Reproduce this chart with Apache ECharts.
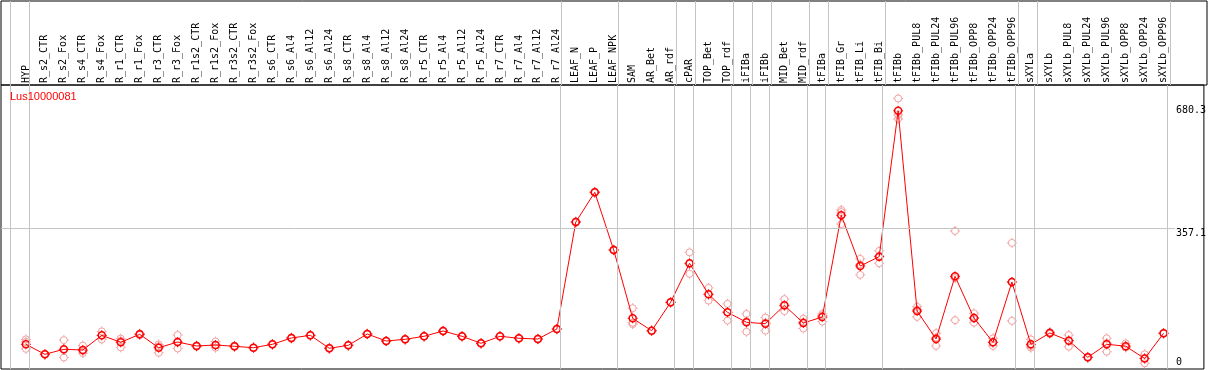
<!DOCTYPE html>
<html>
<head>
<meta charset="utf-8">
<script src="https://cdn.jsdelivr.net/npm/echarts@6/dist/echarts.min.js"></script>
<style>
  html, body { margin: 0; padding: 0; background: #fff; }
  #chart { width: 1209px; height: 370px; }
</style>
</head>
<body>
<div id="chart"></div>
<script>
const geneName = 'Lus10000081';
const categories = ['HYP','R_s2_CTR','R_s2_Fox','R_s4_CTR','R_s4_Fox','R_r1_CTR','R_r1_Fox','R_r3_CTR','R_r3_Fox','R_r1s2_CTR','R_r1s2_Fox','R_r3s2_CTR','R_r3s2_Fox','R_s6_CTR','R_s6_Al4','R_s6_Al12','R_s6_Al24','R_s8_CTR','R_s8_Al4','R_s8_Al12','R_s8_Al24','R_r5_CTR','R_r5_Al4','R_r5_Al12','R_r5_Al24','R_r7_CTR','R_r7_Al4','R_r7_Al12','R_r7_Al24','LEAF_N','LEAF_P','LEAF_NPK','SAM','AR_Bet','AR_rdf','cPAR','TOP_Bet','TOP_rdf','iFIBa','iFIBb','MID_Bet','MID_rdf','tFIBa','tFIB_Gr','tFIB_Li','tFIB_Bi','tFIBb','tFIBb_PUL8','tFIBb_PUL24','tFIBb_PUL96','tFIBb_OPP8','tFIBb_OPP24','tFIBb_OPP96','sXYLa','sXYLb','sXYLb_PUL8','sXYLb_PUL24','sXYLb_PUL96','sXYLb_OPP8','sXYLb_OPP24','sXYLb_OPP96'];
const meanValues = [36.4,8.8,22.6,20.7,61.2,41.9,64,27,42.7,31.7,34.5,30.9,27,36.4,53.8,61.2,25.4,33.6,64.8,45.5,50.2,58.5,73.1,58.5,39.2,58.5,53,51,78.6,373.7,455.6,296.5,108.1,73.9,152.2,259.8,174.3,124.7,97.1,93.2,144,95.1,111.7,392.2,252.3,278,680.3,128.2,51,223.9,108.9,41.9,208.2,36.4,67.6,46.4,0.5,36.4,31.3,-3,66.7];
const replicateValues = [
  [50,43,24],[8,9,10],[48,0,21],[33,12,18],[72,50,61],[52,28,46],[62,66,64],[36,13,31],[62,25,41],[30,33,32],
  [44,27,33],[29,32,31],[26,28,27],[35,37,37],[52,55,54],[60,62,61],[24,27,25],[33,35,33],[64,66,65],[45,46,45],
  [49,51,50],[58,59,58],[72,74,73],[58,59,58],[38,40,39],[58,59,58],[52,54,53],[50,52,51],[78,79,78],[372,375,374],
  [454,457,456],[295,298,297],[136,92,96],[73,75,74],[151,153,152],[290,231,258],[192,157,174],[148,102,125],[120,71,100],[110,74,96],
  [161,128,142],[107,80,98],[120,116,99],[407,401,368],[272,228,257],[294,260,280],[714.2,658,669],[140,112,132],[67,32,55],[349,103,219],
  [122,96,109],[53,32,41],[316,101,208],[50,27,32],[70,65,68],[62,30,47],[0,2,0],[53,16,40],[39,28,28],[9,-16,-2],
  [66,67,67]
];
const yTickLabels = [0, 357.1];
const yMaxLabel = [680.3];
const yGridValue = 357.1;
const groupEnds = [-1,0,28,31,34,35,37,38,39,41,42,45,52,53,60];

// layout
const W = 1209, gridLeft = 1, gridRight = 2;
const firstX = 26, stepX = 19.01;
const gw = W - gridLeft - gridRight;
const xMin = -(firstX - gridLeft) / stepX;
const xMax = xMin + gw / stepX;
const sepOffset = 0.184;
const yMin = -31.7, yMax = 751.5;

const FONT = 'DejaVu Sans Mono';
const RED = '#ff0000', PINK = '#f2a0a0', GRAY = '#c4c4c4';
const tickPath = 'path://M0,5L1.4,5M8.6,5L10,5M5,0L5,1.4M5,8.6L5,10';

const meanData = meanValues.map((v, i) => [i, v]);
const repData = [];
replicateValues.forEach((arr, i) => arr.forEach(v => repData.push([i, v])));
const sepLines = groupEnds.map(g => ({ xAxis: g + sepOffset }));

const chart = echarts.init(document.getElementById('chart'), null, { renderer: 'canvas' });
chart.setOption({
  animation: false,
  backgroundColor: '#fff',
  title: {
    text: geneName, left: 10, top: 91, padding: 0,
    textStyle: { color: RED, fontSize: 11, fontWeight: 'normal', fontFamily: 'Liberation Sans' }
  },
  grid: [
    { left: gridLeft, right: gridRight, top: 1, height: 84, show: true, borderColor: '#000', borderWidth: 1, backgroundColor: 'transparent' },
    { left: gridLeft, right: gridRight, top: 85, height: 284, show: true, borderColor: '#000', borderWidth: 1, backgroundColor: 'transparent' }
  ],
  xAxis: [
    { type: 'value', gridIndex: 0, min: xMin, max: xMax, show: false },
    { type: 'value', gridIndex: 1, min: xMin, max: xMax, position: 'top',
      axisLine: { show: false }, axisTick: { show: false }, splitLine: { show: false },
      axisLabel: { customValues: categories.map((c, i) => i), formatter: v => categories[Math.round(v)] || '',
        rotate: 90, margin: 2, fontSize: 10, fontFamily: FONT, color: '#000', hideOverlap: false } }
  ],
  yAxis: [
    { type: 'value', gridIndex: 0, min: 0, max: 1, show: false },
    { type: 'value', gridIndex: 1, min: yMin, max: yMax, position: 'right', offset: -28,
      axisLine: { show: false }, axisTick: { show: false }, splitLine: { show: false },
      axisLabel: { customValues: yTickLabels, margin: 0, align: 'left', verticalAlign: 'top', fontSize: 10, fontFamily: FONT, color: '#000', formatter: v => String(v) } },
    { type: 'value', gridIndex: 1, min: yMin, max: yMax, position: 'right', offset: -28,
      axisLine: { show: false }, axisTick: { show: false }, splitLine: { show: false },
      axisLabel: { customValues: yMaxLabel, margin: 0, align: 'left', verticalAlign: 'middle', fontSize: 10, fontFamily: FONT, color: '#000', formatter: v => String(v) } }
  ],
  series: [
    { type: 'line', xAxisIndex: 0, yAxisIndex: 0, data: [], silent: true,
      markLine: { silent: true, symbol: ['none','none'], label: { show: false }, lineStyle: { color: GRAY, width: 1, type: 'solid' }, data: sepLines } },
    { type: 'scatter', xAxisIndex: 1, yAxisIndex: 1, data: repData, silent: true, z: 2,
      symbol: 'circle', symbolSize: 7,
      itemStyle: { color: 'rgba(0,0,0,0)', borderColor: PINK, borderWidth: 1, opacity: 1 },
      markLine: { silent: true, symbol: ['none','none'], label: { show: false }, lineStyle: { color: GRAY, width: 1, type: 'solid' },
        data: sepLines.concat([[{ coord: [xMin, yGridValue] }, { coord: [(1178 - firstX) / stepX, yGridValue] }]]) } },
    { type: 'scatter', xAxisIndex: 1, yAxisIndex: 1, data: repData, silent: true, z: 2,
      symbol: tickPath, symbolSize: 10,
      itemStyle: { color: 'rgba(0,0,0,0)', borderColor: PINK, borderWidth: 1, opacity: 1 } },
    { type: 'line', xAxisIndex: 1, yAxisIndex: 1, data: meanData, silent: true, z: 3,
      symbol: 'circle', symbolSize: 7, showAllSymbol: true,
      lineStyle: { color: RED, width: 1 },
      itemStyle: { color: 'rgba(0,0,0,0)', borderColor: RED, borderWidth: 1.5 } },
    { type: 'scatter', xAxisIndex: 1, yAxisIndex: 1, data: meanData, silent: true, z: 3,
      symbol: tickPath, symbolSize: 10,
      itemStyle: { color: 'rgba(0,0,0,0)', borderColor: RED, borderWidth: 1, opacity: 1 } }
  ]
});
</script>
</body>
</html>
